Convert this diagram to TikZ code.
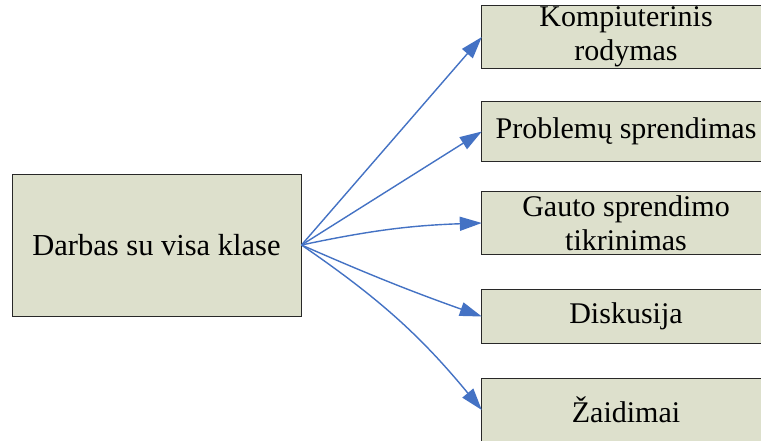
\documentclass[tikz,border=0pt]{standalone}
\usepackage{fontspec}
\setmainfont{Liberation Serif}
\usetikzlibrary{arrows.meta,backgrounds}

\definecolor{boxfill}{RGB}{221,224,204}
\definecolor{boxline}{RGB}{40,40,40}
\definecolor{arrowblue}{RGB}{68,114,196}

\tikzset{
  frame/.style={draw=boxline, line width=1pt, fill=boxfill},
  topicbox/.style={inner sep=0pt, align=center, text=black},
  hubbox/.style={topicbox, frame, minimum width=289pt, minimum height=142pt,
    font=\fontsize{30.5}{36}\selectfont},
  leafbox/.style={topicbox, minimum width=288pt,
    font=\fontsize{30}{34}\selectfont},
  link/.style={draw=arrowblue, line width=1.4pt,
    -{Triangle[length=22pt,width=14pt]}}
}

\begin{document}
\begin{tikzpicture}[x=1pt, y=-1pt]
  \useasboundingbox (0,0) rectangle (761,440);
  \clip (0,0) rectangle (761,440);

  % central topic
  \node[hubbox] (hub) at (156.5,245) {Darbas su visa klase};

  % activities on the right (their frames run past the right edge)
  \node[leafbox, minimum height=62pt] (b1) at (626,37) {Kompiuterinis\\rodymas};
  \node[leafbox, minimum height=59pt] (b2) at (626,131.5) {Problemų sprendimas};
  \node[leafbox, minimum height=62pt] (b3) at (626,223) {Gauto sprendimo\\tikrinimas};
  \node[leafbox, minimum height=53pt] (b4) at (626,316.5) {Diskusija};
  \node[leafbox, minimum height=62pt] (b5) at (626,410) {Žaidimai};

  \begin{scope}[on background layer]
    \fill[white] (0,0) rectangle (761,440);
    \foreach \b in {b1,b2,b3,b4,b5}
      \path[frame] (\b.north west) rectangle ([xshift=40pt]\b.south east);
  \end{scope}

  % connectors
  \draw[link] (hub.east) -- (b1.west);
  \draw[link] (hub.east) -- (b2.west);
  \draw[link] (hub.east) to[bend left=5] (b3.west);
  \draw[link] (hub.east) to[bend right=2] (b4.west);
  \draw[link] (hub.east) to[bend left=8] (b5.west);
\end{tikzpicture}
\end{document}
